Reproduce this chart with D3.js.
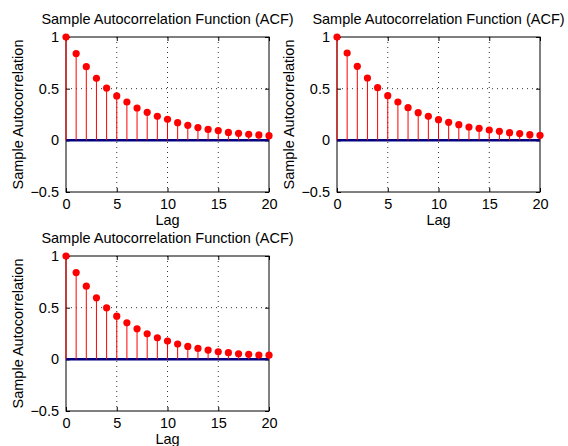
<!DOCTYPE html>
<html>
<head>
<meta charset="utf-8">
<script src="https://cdn.jsdelivr.net/npm/d3@7"></script>
<style>
  body { margin: 0; background: #fff; }
  svg { display: block; }
  text { font-family: "Liberation Sans", Arial, Helvetica, sans-serif; }
</style>
</head>
<body>
<svg width="568" height="446"></svg>
<script>
// acf panels

var lags = d3.range(0, 21);

var acf1 = [1, 0.84, 0.713, 0.60, 0.506, 0.43, 0.371, 0.313, 0.271, 0.232, 0.203,
            0.171, 0.145, 0.123, 0.106, 0.094, 0.077, 0.068, 0.058, 0.052, 0.045];
var acf2 = [1, 0.845, 0.716, 0.603, 0.51, 0.432, 0.371, 0.316, 0.268, 0.232, 0.20,
            0.174, 0.152, 0.129, 0.116, 0.10, 0.087, 0.074, 0.065, 0.055, 0.048];
var acf3 = [1, 0.84, 0.708, 0.595, 0.498, 0.418, 0.353, 0.295, 0.247, 0.208, 0.177,
            0.148, 0.125, 0.106, 0.09, 0.073, 0.064, 0.054, 0.048, 0.042, 0.04];

var xTicks = [0, 5, 10, 15, 20];
var yTicks = [-0.5, 0, 0.5, 1];
var titleText = "Sample Autocorrelation Function (ACF)";
var xLabel = "Lag";
var yLabel = "Sample Autocorrelation";

var svg = d3.select("svg");
var fs = 14.5;

function acfPanel(values, left, top, width, height) {

  var g = svg.append("g").attr("transform", "translate(" + left + "," + top + ")");

  var x = d3.scaleLinear().domain([0, 20]).range([0, width]);
  var y = d3.scaleLinear().domain([-0.5, 1]).range([height, 0]);

  // dotted grid
  g.selectAll(".gx")
      .data(xTicks.slice(1, -1))
    .enter().append("line")
      .attr("x1", function(d) { return x(d); })
      .attr("x2", function(d) { return x(d); })
      .attr("y1", 0)
      .attr("y2", height)
      .attr("stroke", "#333")
      .attr("stroke-width", 1)
      .attr("stroke-dasharray", "1,4");

  g.selectAll(".gy")
      .data(yTicks.slice(1, -1))
    .enter().append("line")
      .attr("x1", 0)
      .attr("x2", width)
      .attr("y1", function(d) { return y(d); })
      .attr("y2", function(d) { return y(d); })
      .attr("stroke", "#333")
      .attr("stroke-width", 1)
      .attr("stroke-dasharray", "1,4");

  // axes, ticks inward
  g.append("g")
      .attr("transform", "translate(0," + height + ")")
      .call(d3.axisBottom(x).tickValues(xTicks).tickSizeInner(-4).tickSizeOuter(0).tickPadding(7))
      .call(function(a) {
        a.select(".domain").remove();
        a.selectAll("text").attr("font-size", fs).attr("fill", "#000");
      });

  g.append("g")
      .call(d3.axisLeft(y).tickValues(yTicks).tickSizeInner(-4).tickSizeOuter(0).tickPadding(7)
        .tickFormat(function(d) { return d < 0 ? "\u2212" + Math.abs(d) : d; }))
      .call(function(a) {
        a.select(".domain").remove();
        a.selectAll("text").attr("font-size", fs).attr("fill", "#000");
      });

  g.append("g")
      .attr("transform", "translate(" + width + ",0)")
      .call(d3.axisLeft(y).tickValues(yTicks).tickSize(4).tickFormat(""))
      .select(".domain").remove();

  g.append("g")
      .call(d3.axisBottom(x).tickValues(xTicks).tickSize(4).tickFormat(""))
      .select(".domain").remove();

  g.selectAll(".tick line").attr("stroke", "#000");
  g.selectAll(".tick text").attr("font-family", null);

  g.append("rect")
      .attr("width", width)
      .attr("height", height)
      .attr("fill", "none")
      .attr("stroke", "#000")
      .attr("stroke-width", 1);

  // zero line
  g.append("line")
      .attr("x1", x(0))
      .attr("x2", x(20))
      .attr("y1", y(0))
      .attr("y2", y(0))
      .attr("stroke", "#000080")
      .attr("stroke-width", 2.5);

  // stems
  g.selectAll(".stem")
      .data(values)
    .enter().append("line")
      .attr("x1", function(d, i) { return x(lags[i]); })
      .attr("x2", function(d, i) { return x(lags[i]); })
      .attr("y1", y(0))
      .attr("y2", function(d) { return y(d); })
      .attr("stroke", "#ff0000")
      .attr("stroke-width", 1);

  g.selectAll(".dot")
      .data(values)
    .enter().append("circle")
      .attr("cx", function(d, i) { return x(lags[i]); })
      .attr("cy", function(d) { return y(d); })
      .attr("r", 3.6)
      .attr("fill", "#ff0000");

  g.append("text")
      .attr("x", width / 2)
      .attr("y", -13)
      .attr("text-anchor", "middle")
      .attr("font-size", fs)
      .text(titleText);

  g.append("text")
      .attr("x", width / 2)
      .attr("y", height + 33)
      .attr("text-anchor", "middle")
      .attr("font-size", fs)
      .text(xLabel);

  g.append("text")
      .attr("transform", "rotate(-90)")
      .attr("x", -height / 2)
      .attr("y", -43)
      .attr("text-anchor", "middle")
      .attr("font-size", fs)
      .text(yLabel);
}

acfPanel(acf1, 66, 37, 203, 155);
acfPanel(acf2, 337, 37, 203, 155);
acfPanel(acf3, 66, 256, 203, 155);
</script>
</body>
</html>
